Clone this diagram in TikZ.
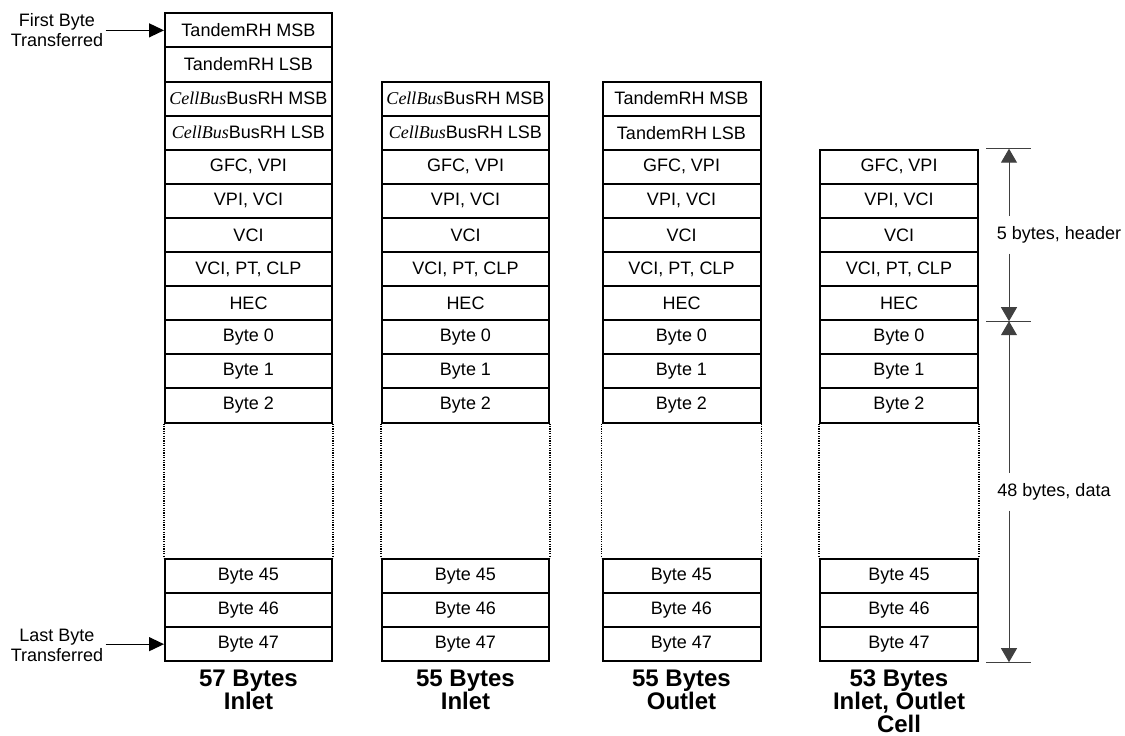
\documentclass[tikz,border=0pt]{standalone}
\usepackage{fontspec}
\setmainfont{Liberation Sans}
\newfontfamily\cbfont{Liberation Serif}
\usetikzlibrary{positioning,arrows.meta,calc}

\newcommand{\cbus}{{\cbfont\itshape CellBus}}

\begin{document}
\begin{tikzpicture}[
  x=0.5pt, y=-0.5pt,
  every node/.style={font=\fontsize{9}{10}\selectfont},
  cellwide/.style={draw, line width=1pt, minimum width=83.5pt, minimum height=17.05pt, inner sep=0pt},
  cellnarrow/.style={cellwide, minimum width=79pt},
  gapline/.style={line width=0.8pt, dash pattern=on 0.6pt off 0.6pt},
  sizelabel/.style={font=\fontsize{12}{11.5}\selectfont\bfseries, align=center, inner sep=1pt},
  endlabel/.style={align=center, inner sep=1pt},
  ptr/.style={-{Triangle[length=7.5pt,width=7pt]}, line width=0.6pt},
  dimarrow/.style={-{Triangle[length=7pt,width=8pt]}, line width=0.5pt, black!75},
  dimtick/.style={line width=0.5pt, black!75},
  dimlabel/.style={inner xsep=0pt, inner ysep=5pt}
]
\useasboundingbox (0,0) rectangle (1125,735);

% 57 bytes inlet
\foreach \txt [count=\k] in {TandemRH MSB, TandemRH LSB, \cbus BusRH MSB, \cbus BusRH LSB,
    {GFC, VPI}, {VPI, VCI}, VCI, {VCI, PT, CLP}, HEC, Byte 0, Byte 1, Byte 2}
  \node[cellwide] (A\k) at (248.5,{13.3+(\k-0.5)*34.1}) {\txt};
\foreach \n [count=\k from 17] in {45,46,47}
  \node[cellwide] (A\k) at (248.5,{13.3+(\k-0.5)*34.1}) {Byte \n};
\draw[gapline] (A12.south west) -- (A17.north west) (A12.south east) -- (A17.north east);
\node[sizelabel, below=2.5pt of A19] (szA) {57 Bytes\\Inlet};

% 55 bytes inlet
\foreach \txt [count=\k from 3] in {\cbus BusRH MSB, \cbus BusRH LSB,
    {GFC, VPI}, {VPI, VCI}, VCI, {VCI, PT, CLP}, HEC, Byte 0, Byte 1, Byte 2}
  \node[cellwide] (B\k) at (465.5,{13.3+(\k-0.5)*34.1}) {\txt};
\foreach \n [count=\k from 17] in {45,46,47}
  \node[cellwide] (B\k) at (465.5,{13.3+(\k-0.5)*34.1}) {Byte \n};
\draw[gapline] (B12.south west) -- (B17.north west) (B12.south east) -- (B17.north east);
\node[sizelabel, below=2.5pt of B19] (szB) {55 Bytes\\Inlet};

% 55 bytes outlet
\foreach \txt [count=\k from 3] in {TandemRH MSB, TandemRH LSB,
    {GFC, VPI}, {VPI, VCI}, VCI, {VCI, PT, CLP}, HEC, Byte 0, Byte 1, Byte 2}
  \node[cellnarrow] (C\k) at (681.5,{13.3+(\k-0.5)*34.1}) {\txt};
\foreach \n [count=\k from 17] in {45,46,47}
  \node[cellnarrow] (C\k) at (681.5,{13.3+(\k-0.5)*34.1}) {Byte \n};
\draw[gapline] (C12.south west) -- (C17.north west) (C12.south east) -- (C17.north east);
\node[sizelabel, below=2.5pt of C19] (szC) {55 Bytes\\Outlet};

% 53 bytes cell
\foreach \txt [count=\k from 5] in {{GFC, VPI}, {VPI, VCI}, VCI, {VCI, PT, CLP}, HEC,
    Byte 0, Byte 1, Byte 2}
  \node[cellnarrow] (D\k) at (899,{13.3+(\k-0.5)*34.1}) {\txt};
\foreach \n [count=\k from 17] in {45,46,47}
  \node[cellnarrow] (D\k) at (899,{13.3+(\k-0.5)*34.1}) {Byte \n};
\draw[gapline] (D12.south west) -- (D17.north west) (D12.south east) -- (D17.north east);
\node[sizelabel, below=2.5pt of D19] (szD) {53 Bytes\\Inlet, Outlet\\Cell};

% first / last byte
\node[endlabel] (first) at (57,30.5) {First Byte\\Transferred};
\node[endlabel] (last) at (57,645) {Last Byte\\Transferred};
\draw[ptr] (first.east |- A1.west) -- (A1.west);
\draw[ptr] (last.east |- A19.west) -- (A19.west);

% dimensions
\coordinate (hdrtop) at ($(D5.north east)+(30,0)$);
\coordinate (hdrbot) at ($(D9.south east)+(30,0)$);
\coordinate (databot) at ($(D19.south east)+(30,0)$);
\foreach \c in {hdrtop,hdrbot,databot}
  \draw[dimtick] ($(\c)+(-23,0)$) -- ($(\c)+(22,0)$);
\node[dimlabel] (hdr) at ($(hdrtop)!0.5!(hdrbot)+(50,0)$) {5 bytes, header};
\node[dimlabel] (data) at ($(hdrbot)!0.5!(databot)+(45,0)$) {48 bytes, data};
\draw[dimarrow] (hdrtop |- hdr.north) -- (hdrtop);
\draw[dimarrow] (hdrtop |- hdr.south) -- (hdrbot);
\draw[dimarrow] (hdrbot |- data.north) -- (hdrbot);
\draw[dimarrow] (hdrbot |- data.south) -- (databot);
\end{tikzpicture}
\end{document}
